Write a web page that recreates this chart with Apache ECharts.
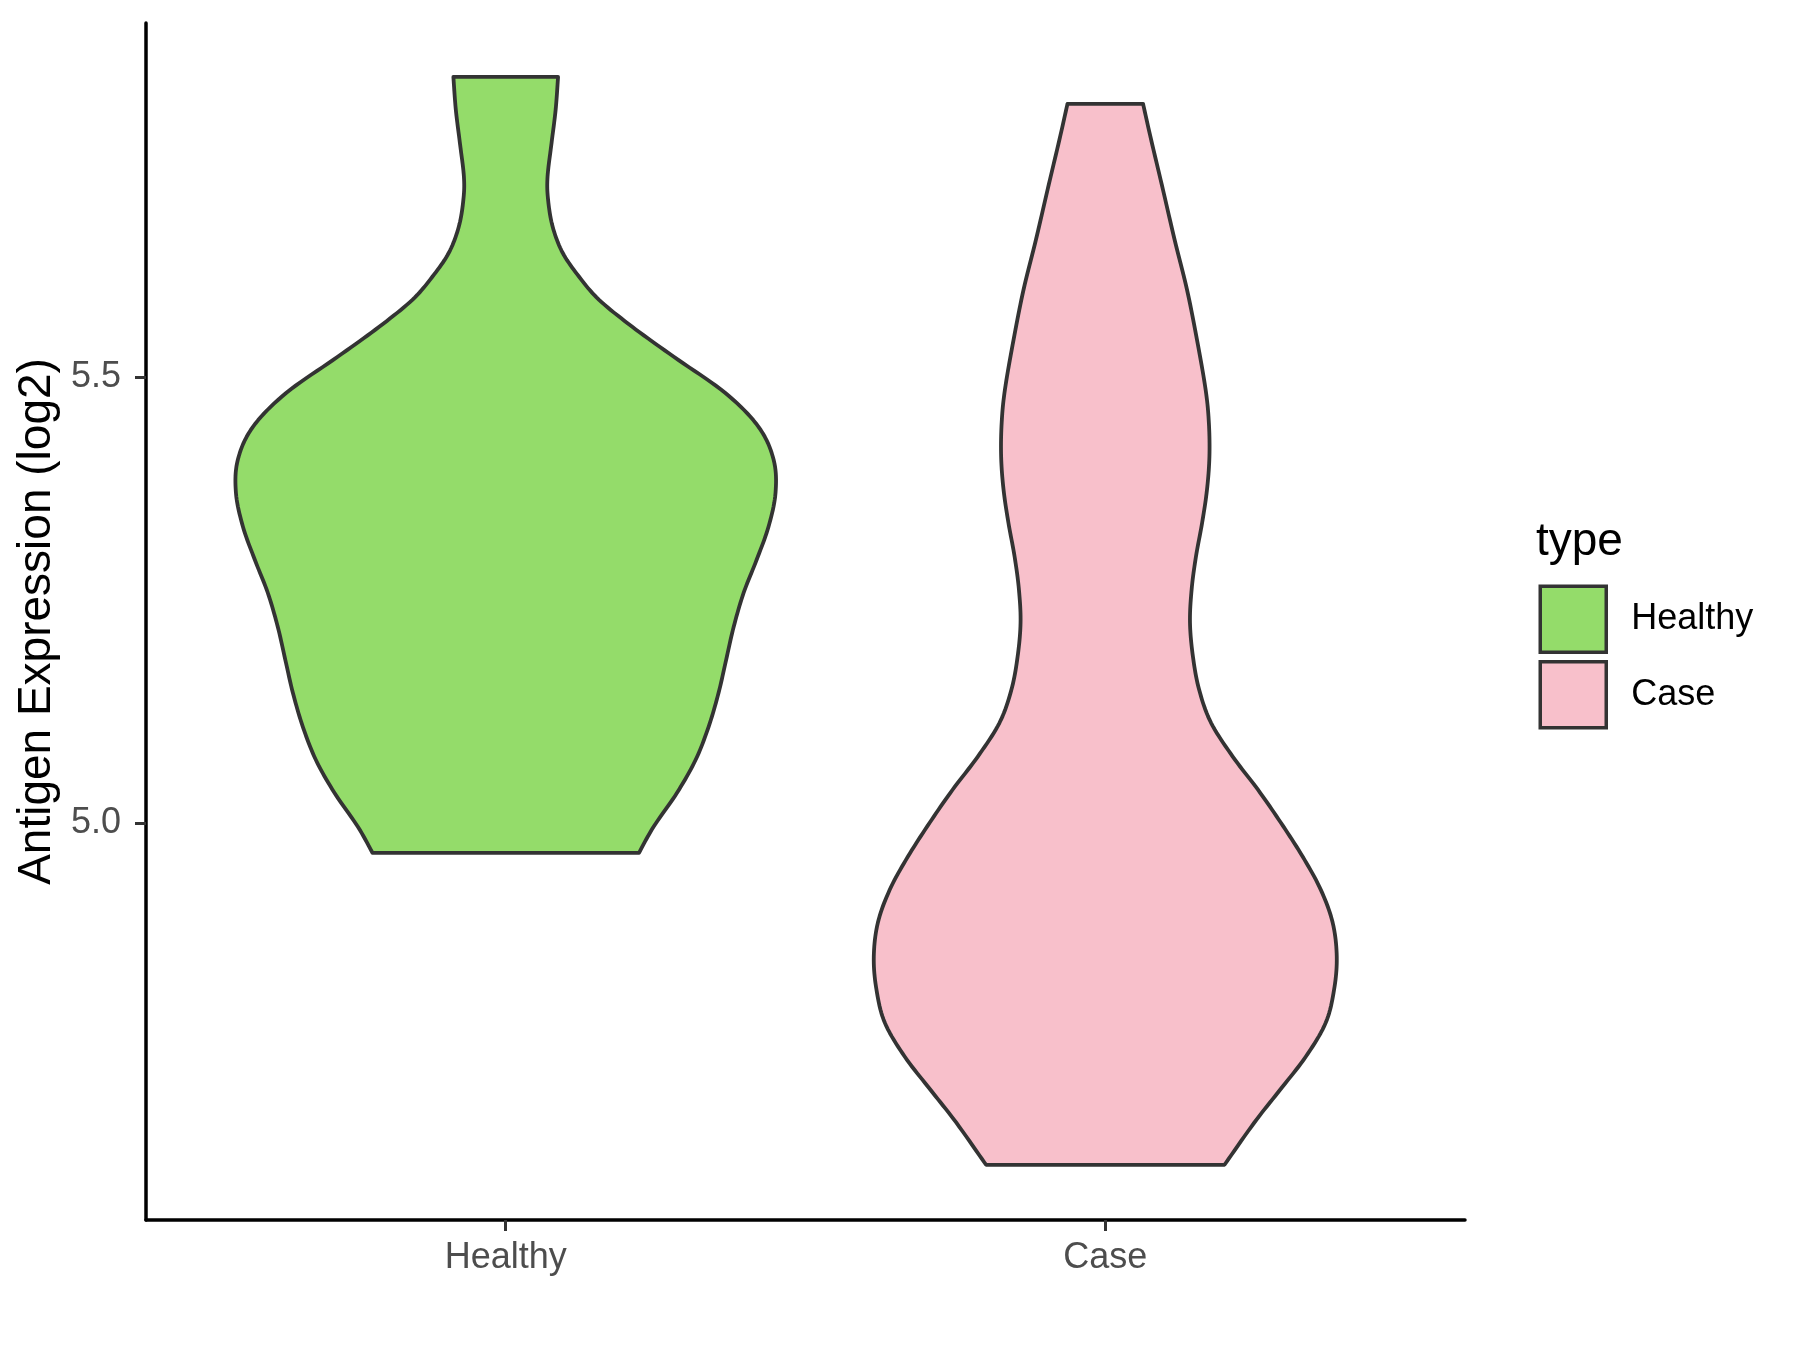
<!DOCTYPE html>
<html>
<head>
<meta charset="utf-8">
<script src="https://cdn.jsdelivr.net/npm/echarts@6/dist/echarts.min.js"></script>
<style>
html,body{margin:0;padding:0;background:#fff;}
#chart{width:1800px;height:1350px;}
</style>
</head>
<body>
<div id="chart"></div>
<script>
// ---- data ----
const categories = ['Healthy', 'Case'];
const yTickValues = [5.0, 5.5];

// Healthy violin: expression values (top -> bottom) and relative density (1 = widest)
const healthyValues = [5.8375, 5.8006, 5.7636, 5.7254, 5.6995, 5.6692, 5.6400, 5.6131, 5.5872, 5.5569,
  5.5232, 5.4828, 5.4446, 5.4076, 5.3705, 5.3324, 5.2953, 5.2583, 5.2201, 5.1830,
  5.1460, 5.1078, 5.0708, 5.0337, 4.9955, 4.9663];
const healthyDensity = [0.194, 0.185, 0.170, 0.155, 0.157, 0.174, 0.211, 0.272, 0.346, 0.469,
  0.623, 0.813, 0.937, 0.993, 1.000, 0.974, 0.930, 0.882, 0.845, 0.817,
  0.789, 0.752, 0.704, 0.635, 0.548, 0.494];

// Case violin
const caseValues = [5.8073, 5.7669, 5.7107, 5.6546, 5.5985, 5.5423, 5.4862, 5.4491, 5.4110, 5.3739,
  5.3369, 5.2987, 5.2617, 5.2246, 5.1864, 5.1493, 5.1123, 5.0741, 5.0371, 5.0000,
  4.9618, 4.9247, 4.8877, 4.8495, 4.8125, 4.7754, 4.7373, 4.7002, 4.6632, 4.6160];
const caseDensity = [0.140, 0.170, 0.214, 0.257, 0.303, 0.340, 0.372, 0.384, 0.386, 0.377,
  0.359, 0.336, 0.320, 0.314, 0.325, 0.348, 0.392, 0.473, 0.566, 0.651,
  0.732, 0.799, 0.843, 0.858, 0.848, 0.817, 0.743, 0.648, 0.552, 0.442];

const colors = ['#94DC6A', '#F8C0CB'];
const profiles = [
  {values: healthyValues, density: healthyDensity},
  {values: caseValues, density: caseDensity}
];
const HALF_WIDTH = 0.45; // ggplot violin width 0.9

const FONT = '"Liberation Sans", Arial, Helvetica, sans-serif';

function catmull(pts, steps) {
  const out = [];
  const n = pts.length;
  for (let i = 0; i < n - 1; i++) {
    const p0 = pts[Math.max(i - 1, 0)], p1 = pts[i], p2 = pts[i + 1], p3 = pts[Math.min(i + 2, n - 1)];
    for (let s = 0; s < steps; s++) {
      const t = s / steps, t2 = t * t, t3 = t2 * t;
      const f = (a, b, c, d) => 0.5 * ((2 * b) + (-a + c) * t + (2 * a - 5 * b + 4 * c - d) * t2 + (-a + 3 * b - 3 * c + d) * t3);
      out.push([f(p0[0], p1[0], p2[0], p3[0]), f(p0[1], p1[1], p2[1], p3[1])]);
    }
  }
  out.push(pts[n - 1]);
  return out;
}

function makeRender(idx) {
  return function (params, api) {
    const xc = api.value(0);
    const prof = profiles[idx];
    const right = [], left = [];
    for (let i = 0; i < prof.values.length; i++) {
      const w = prof.density[i] * HALF_WIDTH;
      right.push(api.coord([xc + w, prof.values[i]]));
      left.push(api.coord([xc - w, prof.values[i]]));
    }
    const r = catmull(right, 10);
    const l = catmull(left, 10).reverse();
    return {
      type: 'polygon',
      shape: {points: r.concat(l)},
      style: {fill: colors[idx], stroke: '#333333', lineWidth: 3.8, lineJoin: 'round'}
    };
  };
}

const chart = echarts.init(document.getElementById('chart'), null, {renderer: 'canvas'});
chart.setOption({
  backgroundColor: '#ffffff',
  animation: false,
  grid: {left: 146, right: 335, top: 23, bottom: 130, containLabel: false},
  xAxis: {
    type: 'value', min: 0.4, max: 2.6,
    splitLine: {show: false},
    axisLine: {show: true, lineStyle: {color: '#000', width: 3.5}},
    axisTick: {show: true, customValues: [1, 2], length: 11, lineStyle: {color: '#333333', width: 3}},
    axisLabel: {show: true, customValues: [1, 2], margin: 20, fontSize: 36, color: '#4D4D4D', fontFamily: FONT,
      formatter: v => categories[Math.round(v) - 1] || ''}
  },
  yAxis: {
    type: 'value', min: 4.554, max: 5.898,
    name: 'Antigen Expression (log2)', nameLocation: 'middle', nameGap: 79, nameRotate: 90,
    nameTextStyle: {fontSize: 46, color: '#000', fontFamily: FONT},
    splitLine: {show: false},
    axisLine: {show: true, lineStyle: {color: '#000', width: 3.5}},
    axisTick: {show: true, customValues: yTickValues, length: 11, lineStyle: {color: '#333333', width: 3}},
    axisLabel: {show: true, customValues: yTickValues, margin: 25, fontSize: 36, color: '#4D4D4D', fontFamily: FONT,
      formatter: v => v.toFixed(1)}
  },
  legend: {
    orient: 'vertical', left: 1538.5, top: 584.5, padding: 0,
    itemWidth: 66, itemHeight: 66, itemGap: 6, icon: 'rect',
    itemStyle: {borderColor: '#333333', borderWidth: 3.5},
    textStyle: {fontSize: 36, color: '#000', fontFamily: FONT, padding: [0, 0, 0, 20]},
    data: categories
  },
  graphic: [{
    type: 'text', left: 1536, top: 519,
    style: {text: 'type', fontSize: 46, fill: '#000', fontFamily: FONT}
  }],
  series: categories.map((name, i) => ({
    name: name,
    type: 'custom',
    itemStyle: {color: colors[i], borderColor: '#333333', borderWidth: 3.5},
    renderItem: makeRender(i),
    data: [[i + 1]]
  }))
});
</script>
</body>
</html>
